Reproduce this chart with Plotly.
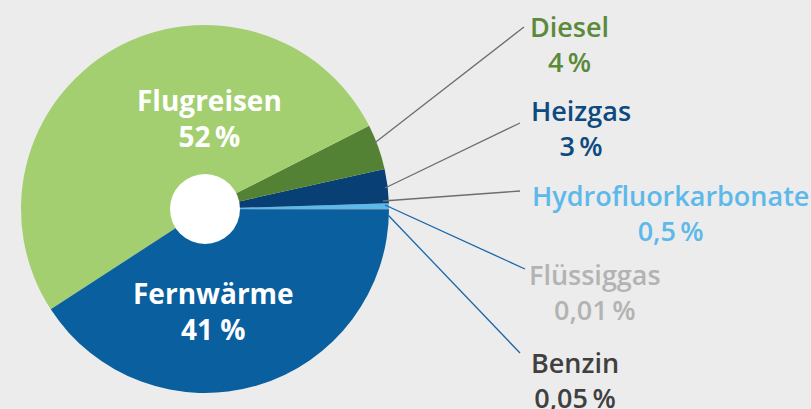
import plotly.graph_objects as go

# Anteile (in %), Reihenfolge gegen den Uhrzeigersinn ab 3 Uhr
labels = ["Benzin", "Flüssiggas", "Hydrofluorkarbonate", "Heizgas", "Diesel", "Flugreisen", "Fernwärme"]
values = [0.05, 0.01, 0.5, 3, 4, 52, 41]
value_text = ["0,05\u2009%", "0,01\u2009%", "0,5\u2009%", "3\u2009%", "4\u2009%", "52\u2009%", "41 %"]
slice_colors = ["#4d4d4d", "#c4c4c4", "#5db9ea", "#083f75", "#548235", "#a3cf70", "#0a5f9e"]
text_colors = ["#404040", "#b3b3b3", "#5db9ea", "#0d4a80", "#5a8a3a", "white", "white"]

W, H = 811, 409
BG = "#ececec"
FONT = "Open Sans"

# Kreis in Pixeln
CX, CY, R, R_HOLE = 205, 209, 184, 35


def px(x, y):
    return x / W, 1 - y / H


fig = go.Figure()

fig.add_trace(
    go.Pie(
        labels=labels,
        values=values,
        sort=False,
        direction="counterclockwise",
        rotation=90,
        marker=dict(colors=slice_colors, line=dict(width=0)),
        textinfo="none",
        hoverinfo="label+percent",
        showlegend=False,
        domain=dict(x=[(CX - R) / W, (CX + R) / W], y=[1 - (CY + R) / H, 1 - (CY - R) / H]),
    )
)

# weißes Loch in der Mitte
fig.add_trace(
    go.Pie(
        values=[1],
        marker=dict(colors=["white"], line=dict(width=0)),
        textinfo="none",
        hoverinfo="skip",
        showlegend=False,
        domain=dict(
            x=[(CX - R_HOLE) / W, (CX + R_HOLE) / W],
            y=[1 - (CY + R_HOLE) / H, 1 - (CY - R_HOLE) / H],
        ),
    )
)

# Beschriftungen außen: (Textposition links, Mitte y), Linie von -> bis
outer = {
    "Diesel": dict(pos=(528, 44), line=((372, 145), (524, 27)), lc="#6e6e6e"),
    "Heizgas": dict(pos=(529, 128), line=((385, 188), (520, 123)), lc="#6e6e6e"),
    "Hydrofluorkarbonate": dict(pos=(530, 213), line=((383, 201), (520, 191)), lc="#6e6e6e"),
    "Flüssiggas": dict(pos=(527, 292), line=((385, 205), (525, 269)), lc="#1a66a8"),
    "Benzin": dict(pos=(529, 380), line=((388, 215), (520, 353)), lc="#1a66a8"),
}
inner = {
    "Flugreisen": (209, 118),
    "Fernwärme": (214, 311),
}

for lab, val, tc in zip(labels, value_text, text_colors):
    if lab in outer:
        o = outer[lab]
        x, y = px(*o["pos"])
        fig.add_annotation(
            x=x, y=y, xref="paper", yref="paper",
            text=f"{lab}<br>{val}",
            showarrow=False, xanchor="left", yanchor="middle", align="center",
            font=dict(family=FONT, size=27, color=tc, weight=600),
        )
        (x0, y0), (x1, y1) = o["line"]
        a0, b0 = px(x0, y0)
        a1, b1 = px(x1, y1)
        fig.add_shape(
            type="line", xref="paper", yref="paper",
            x0=a0, y0=b0, x1=a1, y1=b1,
            line=dict(color=o["lc"], width=1.3),
        )
    else:
        x, y = px(*inner[lab])
        fig.add_annotation(
            x=x, y=y, xref="paper", yref="paper",
            text=f"{lab}<br>{val}",
            showarrow=False, xanchor="center", yanchor="middle", align="center",
            font=dict(family=FONT, size=28, color=tc, weight=700),
        )

fig.update_layout(
    width=W,
    height=H,
    margin=dict(l=0, r=0, t=0, b=0),
    paper_bgcolor=BG,
    plot_bgcolor=BG,
    showlegend=False,
)

fig.write_html(
    "out.html",
    config={"displayModeBar": False},
    post_script="document.body.style.margin='0';",
)
